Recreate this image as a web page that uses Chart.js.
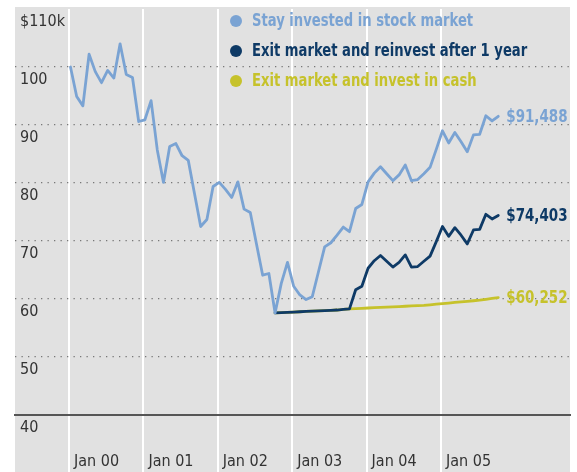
<!DOCTYPE html>
<html><head><meta charset="utf-8">
<script src="https://cdn.jsdelivr.net/npm/chart.js@4"></script>
<style>html,body{margin:0;padding:0;background:#fff;}#wrap{width:577px;height:472px;}</style>
</head><body><div id="wrap"><canvas id="c" width="577" height="472"></canvas></div>
<script>
const seriesNames = ['Stay invested in stock market', 'Exit market and reinvest after 1 year', 'Exit market and invest in cash'];
const seriesColors = ['#7aa3d3', '#0e3a66', '#c6c22b'];
const endLabels = ['$91,488', '$74,403', '$60,252'];
const xTickLabels = ['Jan 00', 'Jan 01', 'Jan 02', 'Jan 03', 'Jan 04', 'Jan 05'];
const yTickValues = [40, 50, 60, 70, 80, 90, 100, 110];
const yTickLabels = ['40', '50', '60', '70', '80', '90', '100', '$110k'];

// monthly values ($k), month 0 = Jan 2000
const stayStart = 0;
const stayInvested = [100.0, 94.9, 93.3, 102.2, 99.2, 97.3, 99.4, 98.1, 104.0, 98.7,
  98.2, 90.6, 90.9, 94.2, 85.7, 80.1, 86.3, 86.8, 84.7, 83.9,
  78.2, 72.5, 73.7, 79.4, 80.1, 78.9, 77.5, 80.2, 75.5, 74.9,
  69.5, 64.1, 64.4, 57.6, 62.7, 66.3, 62.2, 60.7, 59.9, 60.4,
  64.7, 69.0, 69.7, 71.0, 72.4, 71.6, 75.6, 76.3, 80.2, 81.7,
  82.8, 81.6, 80.4, 81.4, 83.1, 80.4, 80.6, 81.6, 82.7, 85.8,
  89.0, 86.9, 88.7, 87.1, 85.4, 88.3, 88.4, 91.6, 90.7, 91.5];
const reinvestStart = 33;
const reinvestAfterYear = [57.6, 57.65, 57.7, 57.75, 57.8, 57.85, 57.9, 57.95, 58.0, 58.05, 58.1, 58.2, 58.3,
  61.6, 62.2, 65.3, 66.6, 67.5, 66.5, 65.5, 66.3, 67.6, 65.5, 65.6, 66.5, 67.4,
  69.9, 72.5, 70.8, 72.3, 71.0, 69.5, 71.9, 72.0, 74.6, 73.8, 74.4];
const cashStart = 33;
const investInCash = [57.6, 57.65, 57.7, 57.75, 57.8, 57.85, 57.9, 57.95, 58.0, 58.05, 58.1, 58.2, 58.3,
  58.35, 58.4, 58.45, 58.5, 58.55, 58.6, 58.65, 58.7, 58.75, 58.8, 58.85, 58.9, 59.0,
  59.1, 59.2, 59.3, 59.4, 59.5, 59.6, 59.7, 59.8, 59.95, 60.1, 60.25];

const FONT = "'DejaVu Sans Condensed','Liberation Sans Narrow',sans-serif";
const toPts = (start, arr) => arr.map((v, i) => ({x: start + i, y: v}));

function narrowText(ctx, text, x, y, sx) {
  ctx.save();
  ctx.translate(x, y);
  ctx.scale(sx, 1);
  ctx.fillText(text, 0, 0);
  ctx.restore();
}

const bgPlugin = {
  id: 'bg',
  beforeDraw(chart) {
    const {ctx, chartArea: a} = chart;
    ctx.save();
    ctx.fillStyle = '#e1e1e1';
    ctx.fillRect(a.left, a.top - 2, a.right - a.left, chart.height - a.top + 2);
    ctx.restore();
  }
};
const legendPlugin = {
  id: 'topLegend',
  afterDraw(chart) {
    const ctx = chart.ctx;
    ctx.save();
    ctx.font = 'bold 17px ' + FONT;
    ctx.textBaseline = 'middle';
    ctx.textAlign = 'left';
    chart.data.datasets.forEach((ds, i) => {
      const y = 21 + i * 30;
      ctx.fillStyle = ds.borderColor;
      ctx.beginPath(); ctx.arc(236, y, 6, 0, Math.PI * 2); ctx.fill();
      narrowText(ctx, ds.label, 252, y + 1, 0.86);
    });
    ctx.restore();
  }
};
const endLabelPlugin = {
  id: 'endLabels',
  afterDatasetsDraw(chart) {
    const ctx = chart.ctx;
    ctx.save();
    ctx.font = 'bold 17px ' + FONT;
    ctx.textBaseline = 'middle';
    ctx.textAlign = 'left';
    chart.data.datasets.forEach((ds, i) => {
      const pts = chart.getDatasetMeta(i).data;
      const p = pts[pts.length - 1];
      ctx.fillStyle = ds.borderColor;
      narrowText(ctx, endLabels[i], p.x + 8, p.y + 1, 0.88);
    });
    ctx.restore();
  }
};

new Chart(document.getElementById('c'), {
  type: 'line',
  data: {
    datasets: [
      {label: seriesNames[0], data: toPts(stayStart, stayInvested), borderColor: seriesColors[0], borderWidth: 2.8},
      {label: seriesNames[1], data: toPts(reinvestStart, reinvestAfterYear), borderColor: seriesColors[1], borderWidth: 2.8},
      {label: seriesNames[2], data: toPts(cashStart, investInCash), borderColor: seriesColors[2], borderWidth: 2.8}
    ]
  },
  options: {
    responsive: false, animation: false, devicePixelRatio: 1,
    elements: {point: {radius: 0}, line: {tension: 0, borderJoinStyle: 'round', borderCapStyle: 'round'}},
    layout: {padding: {left: 10, right: 7, top: 9, bottom: 0}},
    plugins: {legend: {display: false}, tooltip: {enabled: false}},
    scales: {
      x: {
        type: 'linear', min: -8.95, max: 80.57,
        afterBuildTicks: s => { s.ticks = xTickLabels.map((_, k) => ({value: 12 * k - 0.24})); },
        afterFit: s => { s.height = 57; s.paddingLeft = 0; s.paddingRight = 0; },
        grid: {color: '#ffffff', lineWidth: 2, drawTicks: true, tickLength: 57},
        border: {display: true, color: '#555555', width: 2},
        ticks: {align: 'start', labelOffset: 5, padding: -20, color: '#333', autoSkip: false, maxRotation: 0,
          font: {family: FONT, size: 16}, callback: (v, i) => xTickLabels[i]}
      },
      y: {
        min: 40, max: 110,
        afterBuildTicks: s => { s.ticks = yTickValues.map(v => ({value: v})); },
        afterFit: s => { s.width = 5; s.paddingTop = 0; s.paddingBottom = 0; },
        grid: {color: c => (c.tick && c.tick.value > 40 && c.tick.value < 110) ? '#777777' : 'rgba(0,0,0,0)', lineWidth: 1.3, drawTicks: false},
        border: {display: false, dash: [1.3, 5.2]},
        ticks: {mirror: true, padding: 5, labelOffset: 13, color: '#333', font: {family: FONT, size: 16},
          callback: (v, i) => yTickLabels[i]}
      }
    }
  },
  plugins: [bgPlugin, legendPlugin, endLabelPlugin]
});
</script></body></html>
